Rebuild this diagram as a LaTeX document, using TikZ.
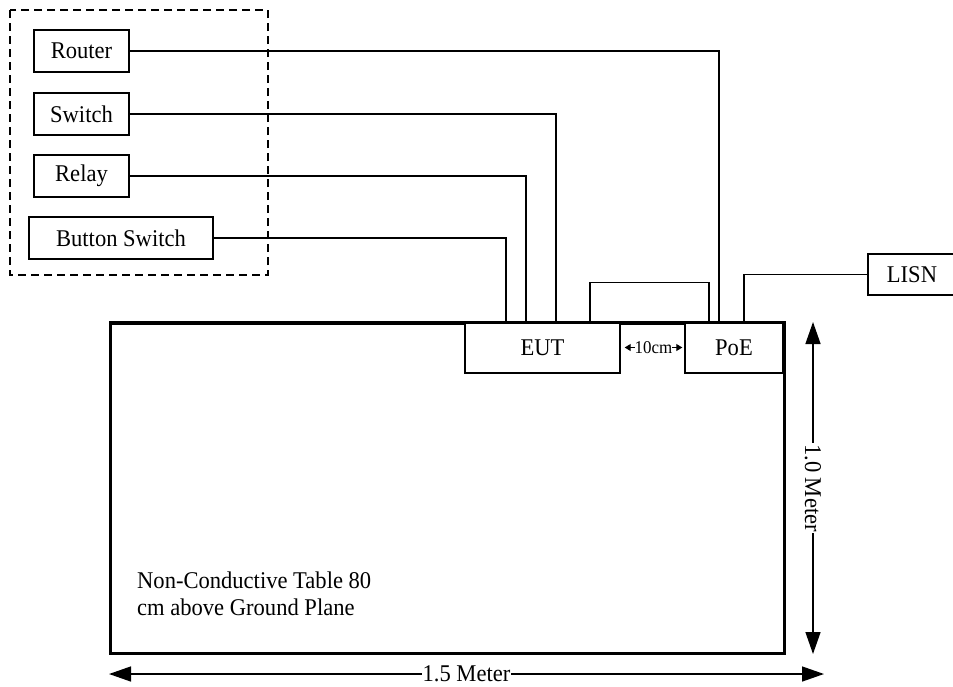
\documentclass[tikz,border=0pt]{standalone}
\usepackage{fontspec}
\setmainfont{Liberation Serif}[FakeStretch=0.94]
\usetikzlibrary{arrows.meta}
\begin{document}
\begin{tikzpicture}[x=1pt,y=-1pt,
  box/.style={draw,line width=1.4pt,inner sep=0pt,minimum height=42pt,font=\fontsize{24}{28}\selectfont},
  wire/.style={line width=1.4pt},
  dim/.style={line width=1.4pt,{Triangle[length=22pt,width=15pt]}-{Triangle[length=22pt,width=15pt]}},
  lbl/.style={font=\fontsize{24}{28}\selectfont, fill=white, inner sep=1pt}]
\useasboundingbox (0,0) rectangle (953,686);
% group box
\draw[line width=1.4pt, dash pattern=on 8pt off 5pt] (10,10) rectangle (268,275);
\node[box,minimum width=95pt] (router) at (81.5,51) {Router};
\node[box,minimum width=95pt] (switch) at (81.5,114) {Switch};
\node[box,minimum width=95pt] (relay) at (81.5,176) {Relay};
\node[box,minimum width=184pt] (button) at (121,238) {Button Switch};
% table
\node[draw, line width=3pt, minimum width=674pt, minimum height=330pt, anchor=north west, inner sep=0pt] (table) at (109,322) {};
\node[box, fill=white, minimum width=155pt, minimum height=51pt] (eut) at (542.5,347.5) {EUT};
\node[box, fill=white, minimum width=98pt, minimum height=51pt] (poe) at (734,347.5) {PoE};
\draw[line width=3pt] (table.north west) -- (table.north east);
\node[box, minimum width=88pt, minimum height=41pt] (lisn) at (912,274.5) {LISN};
% wires
\draw[wire] (router.east) -| ([xshift=-15pt]poe.north);
\draw[wire] (switch.east) -| ([xshift=13.5pt]eut.north);
\draw[wire] (relay.east) -| ([xshift=-16.5pt]eut.north);
\draw[wire] (button.east) -| ([xshift=-36.5pt]eut.north);
\draw[wire] ([xshift=47.5pt]eut.north) -- ++(0,-39) -| ([xshift=-25pt]poe.north);
\draw[wire] (lisn.west) -| ([xshift=10pt]poe.north);
% 10cm
\draw[line width=1pt, {Triangle[length=6pt,width=7pt]}-{Triangle[length=6pt,width=7pt]}] ([xshift=4pt]eut.east) -- ([xshift=-2pt]poe.west) node[midway, fill=white, font=\fontsize{18}{20}\selectfont, inner sep=0pt] (tencm) {10cm};
% text
\node[anchor=north west, align=left, inner sep=0pt, font=\fontsize{24}{27}\selectfont] (tabletext) at (137,572) {Non-Conductive Table 80\\cm above Ground Plane};
% dimensions
\coordinate (vtop) at (813,322);
\coordinate (vbot) at (813,654);
\coordinate (hleft) at (109,674);
\coordinate (hright) at (824,674);
\draw[dim] (vtop) -- (vbot) node[midway, lbl, rotate=-90] (vlbl) {1.0 Meter};
\draw[dim] (hleft) -- (hright) node[midway, lbl] (hlbl) {1.5 Meter};
\end{tikzpicture}
\end{document}
